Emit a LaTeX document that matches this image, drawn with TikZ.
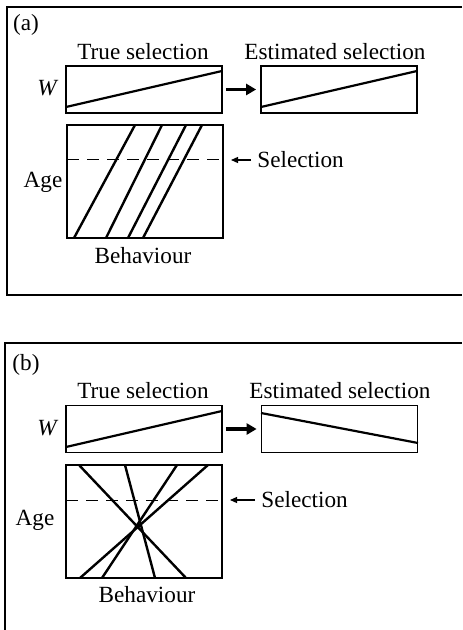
\documentclass[tikz,border=0pt]{standalone}
\usepackage{fontspec}
\setmainfont{Liberation Serif}
\usetikzlibrary{arrows.meta}
\tikzset{>=Stealth,every node/.style={font=\fontsize{11.6}{13}\selectfont},
 frame/.style={line width=0.9pt},
 wbox/.style={draw,line width=0.9pt,minimum width=78pt,minimum height=23.5pt,inner sep=0pt},
 agebox/.style={draw,line width=0.9pt,minimum width=78pt,minimum height=56.5pt,inner sep=0pt},
 trend/.style={line width=1.1pt},
 cohort/.style={line width=1.2pt},
 cutline/.style={line width=0.5pt,dash pattern=on 6pt off 4pt},
 warrow/.style={line width=1.8pt,-{Triangle[length=5pt,width=5.5pt]},
 shorten <=1.5pt,shorten >=2pt},
 selarrow/.style={line width=0.6pt,-{Triangle[length=3.5pt,width=3pt]}}}

\begin{document}
\begin{tikzpicture}[x=0.5pt,y=-0.5pt]
\useasboundingbox (0,0) rectangle (462,630);
% Panel (a): cohorts run parallel, so the estimate keeps the sign.
\begin{scope}
\draw[frame] (462,7)--(7,7)--(7,295)--(462,295);
\node (labA) at (26,25) {(a)};
\node (trueTA) at (143,52) {True selection};
\node (estTA) at (335,52) {Estimated selection};
\node (wA) at (48,88) {\textit{W}};
\node[wbox] (trueA) at (144,89.5) {};
\node[wbox] (estA) at (339,89.5) {};
\draw[trend] (66,107)--(222,71);
\draw[trend] (261,107)--(417,71);
\draw[warrow] (trueA)--(estA);
\node[agebox] (ageBoxA) at (145,181.5) {};
\foreach \b/\t in {74/135,106/162,128/186,143/202}
 {\draw[cohort] (\b,238)--(\t,125);}
\draw[cutline] (67,160)--(223,160);
\node[anchor=west,inner sep=3pt] (selA) at (251,160) {Selection};
\coordinate (cutA) at (231,160);
\draw[selarrow] (selA)--(cutA);
\node (ageA) at (43,182) {Age};
\node (behA) at (143,256) {Behaviour};
\end{scope}
% Panel (b): cohorts cross below the cut, so the estimate flips.
\begin{scope}[shift={(0,340)}]
\draw[frame] (462,3)--(5,3)--(5,290);
\node (labB) at (26,25) {(b)};
\node (trueTB) at (143,51) {True selection};
\node (estTB) at (340,51) {Estimated selection};
\node (wB) at (48,88) {\textit{W}};
\node[wbox] (trueB) at (144,89) {};
\node[wbox] (estB) at (339.5,89) {};
\draw[trend] (66,107)--(222,71);
\draw[trend] (261,73)--(418,103);
\draw[warrow] (trueB)--(estB);
\node[agebox] (ageBoxB) at (144,181.5) {};
\foreach \t/\b in {79/186,125/155,177/102,208/80}
 {\draw[cohort] (\t,125)--(\b,238);}
\draw[cutline] (66,160)--(222,160);
\node[anchor=west,inner sep=3pt] (selB) at (255,160) {Selection};
\coordinate (cutB) at (230,160);
\draw[selarrow] (selB)--(cutB);
\node (ageB) at (35,180) {Age};
\node (behB) at (147,255) {Behaviour};
\end{scope}
\end{tikzpicture}
\end{document}
